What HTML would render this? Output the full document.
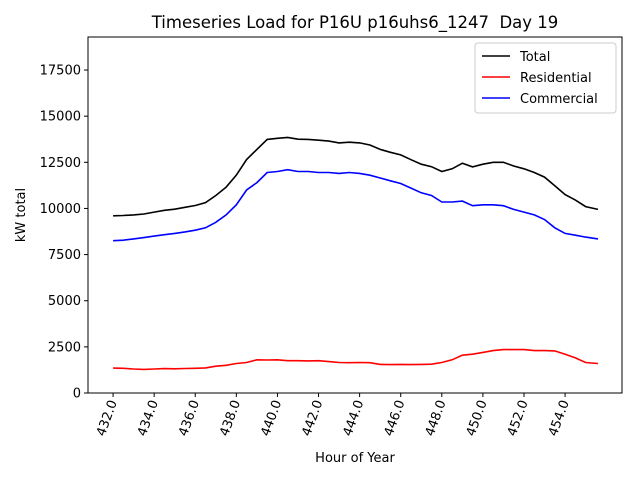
<!DOCTYPE html>
<html><head><meta charset="utf-8"><style>
body{margin:0;background:#fff;font-family:"Liberation Sans","DejaVu Sans",sans-serif}
svg text{font-family:"DejaVu Sans","Liberation Sans",sans-serif}
</style></head><body>
<svg id="chart" width="640" height="480"></svg>
<script>
const hours=[432,432.5,433,433.5,434,434.5,435,435.5,436,436.5,437,437.5,438,438.5,439,439.5,440,440.5,441,441.5,442,442.5,443,443.5,444,444.5,445,445.5,446,446.5,447,447.5,448,448.5,449,449.5,450,450.5,451,451.5,452,452.5,453,453.5,454,454.5,455,455.6];
const commercial=[8250,8280,8350,8420,8500,8580,8650,8730,8820,8950,9250,9650,10200,11000,11400,11950,12000,12100,12000,12000,11950,11950,11900,11950,11900,11800,11650,11500,11350,11100,10850,10700,10350,10350,10400,10150,10200,10200,10150,9950,9800,9650,9400,8950,8650,8550,8450,8350];
const residential=[1350,1340,1300,1280,1300,1320,1310,1330,1340,1360,1450,1500,1600,1650,1800,1790,1800,1750,1750,1740,1750,1700,1650,1640,1650,1640,1550,1540,1550,1540,1550,1560,1650,1800,2050,2100,2200,2300,2350,2350,2350,2300,2300,2280,2100,1900,1650,1600];
const total=[9600,9620,9650,9700,9800,9900,9960,10060,10160,10310,10700,11150,11800,12650,13200,13740,13800,13850,13750,13740,13700,13650,13550,13590,13550,13440,13200,13040,12900,12640,12400,12260,12000,12150,12450,12250,12400,12500,12500,12300,12150,11950,11700,11230,10750,10450,10100,9950];
const xTicks=[432,434,436,438,440,442,444,446,448,450,452,454];
const yTicks=[0,2500,5000,7500,10000,12500,15000,17500];
const L=88,R=622,T=37,B=393,xmin=430.78,xmax=456.77,ymin=0,ymax=19290;
const X=h=>L+(h-xmin)/(xmax-xmin)*(R-L);
const Y=v=>B-(v-ymin)/(ymax-ymin)*(B-T);
const svg=document.getElementById('chart');const NS='http://www.w3.org/2000/svg';
function mk(tag,at,txt){const e=document.createElementNS(NS,tag);for(const k in at)e.setAttribute(k,at[k]);if(txt!==undefined)e.textContent=txt;svg.appendChild(e);return e;}
let t=mk('text',{x:355,y:28,'text-anchor':'middle','font-size':16.5},'Timeseries Load for P16U p16uhs6_1247  Day 19');


t.setAttribute('xml:space','preserve');
t.style.whiteSpace='pre';
for(const v of yTicks){const y=Y(v);
 let l=mk('line',{x1:L-4,x2:L,y1:y,y2:y,stroke:'#000'});
 
 
 let tx=mk('text',{x:L-7,y:y+4.5,'text-anchor':'end','font-size':13},String(v));
 
 }
for(const v of xTicks){const x=X(v);
 let l=mk('line',{x1:x,x2:x,y1:B,y2:B+4,stroke:'#000'});
 
 
 let tx=mk('text',{x:x+4,y:B+9,'text-anchor':'end','font-size':13,transform:`rotate(-70 ${x+4} ${B+9})`},v.toFixed(1));
 
 }
function series(vals,color,name){const d=vals.map((v,i)=>(i?'L':'M')+X(hours[i]).toFixed(1)+' '+Y(v).toFixed(1)).join(' ');
 let p=mk('path',{d,fill:'none',stroke:color,'stroke-width':1.6});
 
 }
series(total,'#000','total-line');series(residential,'#f00','residential-line');series(commercial,'#00f','commercial-line');
let fr=mk('rect',{x:L,y:T,width:R-L,height:B-T,fill:'none',stroke:'#000','stroke-width':1});


let xl=mk('text',{x:355,y:462,'text-anchor':'middle','font-size':13},'Hour of Year');


let yl=mk('text',{x:25,y:215,'text-anchor':'middle','font-size':13,transform:'rotate(-90 25 215)'},'kW total');


let lg=mk('rect',{x:475,y:43,width:141,height:70,rx:3,fill:'#fff',stroke:'#ccc'});


[['Total','#000'],['Residential','#f00'],['Commercial','#00f']].forEach(([n,c],i)=>{const y=56+i*21;
 let l=mk('line',{x1:482,x2:510,y1:y,y2:y,stroke:c,'stroke-width':1.6});
 
 
 let tx=mk('text',{x:520,y:y+5,'font-size':13},n);
 
 });
</script></body></html>
